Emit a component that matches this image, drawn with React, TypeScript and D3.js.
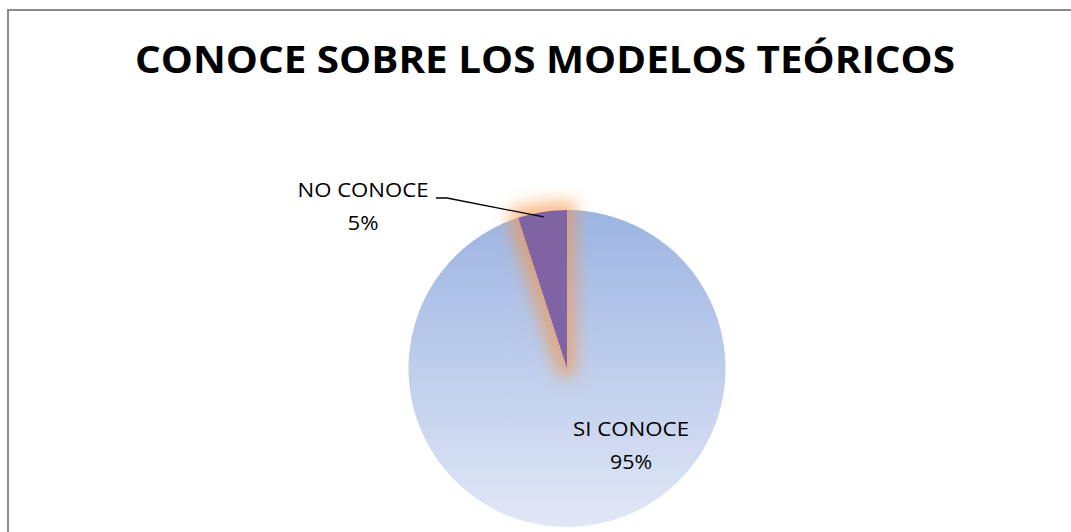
import React from "react";
import * as d3 from "d3";

const categories = ["SI CONOCE", "NO CONOCE"];
const values = [95, 5];
const percentLabels = ["95%", "5%"];
const title = "CONOCE SOBRE LOS MODELOS TEÓRICOS";

const W = 1071;
const H = 532;
const cx = 567;
const cy = 368.5;
const R = 158.5;

export default function App() {
  const pie = d3.pie<number>().sort(null).startAngle(0).endAngle(2 * Math.PI);
  const arcs = pie(values);
  const arcGen = d3.arc<d3.PieArcDatum<number>>().innerRadius(0).outerRadius(R);

  const labelPos = [
    { x: cx + 64, y: cy + 67.5 },
    { x: cx - 204, y: cy - 171.5 },
  ];
  const labelWidths = [
    [116, 42],
    [131, 31],
  ];

  const noArc = arcs[1];
  const edgeAngle = (noArc.startAngle + noArc.endAngle) / 2;
  const edgePt: [number, number] = [cx + Math.sin(edgeAngle) * R * 0.94, cy - Math.cos(edgeAngle) * R];
  const leader = d3.line()([
    [436, 198],
    [447, 198],
    [edgePt[0], edgePt[1] + 5],
  ]);

  const font = "'Open Sans', 'Liberation Sans', sans-serif";

  return (
    <svg width={W} height={H} style={{ position: "absolute", left: 0, top: 0, background: "#fff" }}>
      <defs>
        <linearGradient id="blueGrad" gradientUnits="userSpaceOnUse" x1={0} y1={-R} x2={0} y2={R}>
          <stop offset="0%" stopColor="#9cb4e2" />
          <stop offset="100%" stopColor="#e1e7f6" />
        </linearGradient>
        <filter id="glow" filterUnits="userSpaceOnUse" x={-R} y={-R - 60} width={2 * R} height={2 * R + 60}>
          <feMorphology in="SourceAlpha" operator="dilate" radius="9" result="d" />
          <feGaussianBlur in="d" stdDeviation="7.5" result="b" />
          <feFlood floodColor="#f79646" floodOpacity="0.6" />
          <feComposite in2="b" operator="in" result="g" />
          <feMerge>
            <feMergeNode in="g" />
            <feMergeNode in="SourceGraphic" />
          </feMerge>
        </filter>
      </defs>
      <rect x={8} y={10} width={1100} height={560} fill="#fff" stroke="#8c8c8c" strokeWidth={2} />
      <text
        x={545}
        y={73}
        textAnchor="middle"
        fontFamily={font}
        fontWeight={700}
        fontSize={38}
        textLength={820}
        lengthAdjust="spacingAndGlyphs"
        fill="#000"
      >
        {title}
      </text>
      <g transform={`translate(${cx},${cy})`}>
        <path d={arcGen(arcs[0]) || ""} fill="url(#blueGrad)" />
        <path d={arcGen(arcs[1]) || ""} fill="#8064a2" filter="url(#glow)" />
      </g>
      <path d={leader || ""} fill="none" stroke="#000" strokeWidth={1.3} />
      {categories.map((c, i) => (
        <g key={c}>
          <text
            x={labelPos[i].x}
            y={labelPos[i].y}
            textAnchor="middle"
            fontFamily={font}
            fontSize={19.5}
            textLength={labelWidths[i][0]}
            lengthAdjust="spacingAndGlyphs"
            fill="#000"
          >
            {c}
          </text>
          <text
            x={labelPos[i].x}
            y={labelPos[i].y + 33}
            textAnchor="middle"
            fontFamily={font}
            fontSize={19.5}
            textLength={labelWidths[i][1]}
            lengthAdjust="spacingAndGlyphs"
            fill="#000"
          >
            {percentLabels[i]}
          </text>
        </g>
      ))}
    </svg>
  );
}
